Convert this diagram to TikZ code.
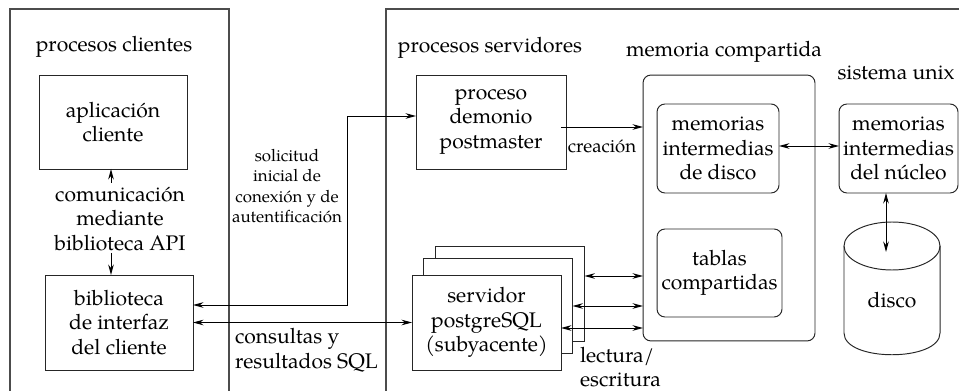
\documentclass[tikz,border=0pt]{standalone}
\usepackage{fontspec}
\setmainfont{TeX Gyre Pagella}
\usetikzlibrary{arrows.meta,calc}
\begin{document}
\begin{tikzpicture}[x=0.02cm,y=-0.02cm,
  every node/.style={inner sep=0pt, outer sep=0pt},
  mainf/.style={font=\fontsize{12}{13.9}\selectfont},
  smallf/.style={font=\fontsize{9.6}{11.6}\selectfont},
  midf/.style={font=\fontsize{10.6}{12.6}\selectfont},
  box/.style={draw=black!85, line width=0.55pt, fill=white, align=center, mainf},
  rbox/.style={box, rounded corners=4.5pt},
  frame/.style={draw=black!70, line width=0.6pt},
  outline/.style={draw=black!85, line width=0.55pt},
  tip/.tip={Stealth[length=6pt,width=3.2pt,inset=2pt]},
  arr/.style={line width=0.55pt, -tip},
  dbl/.style={line width=0.55pt, tip-tip},
]
\useasboundingbox (0,0) rectangle (959,391);

% frames
\draw[frame] (10,391) -- (10,9) -- (229,9) -- (229,391);
\draw[frame] (386,391) -- (386,9) -- (959,9);

% titles
\node[mainf, anchor=base] (tcli) at (114,52) {procesos clientes};
\node[mainf, anchor=base] (tsrv) at (490,53) {procesos servidores};
\node[mainf, anchor=base] (tmem) at (724,57) {memoria compartida};
\node[mainf, anchor=base] (tunx) at (896,80) {sistema unix};

% client side
\node[box, minimum width=2.96cm, minimum height=1.88cm] (apl) at (113,122) {aplicación\\cliente};
\node[box, minimum width=2.96cm, minimum height=1.90cm] (bib) at (119,322.5) {biblioteca\\de interfaz\\del cliente};
\node[mainf, align=center] (com) at (120,219) {comunicación\\mediante\\biblioteca API};
\coordinate (comtop) at (111,183);
\coordinate (combot) at (111,253);
\draw[arr] (comtop) -- (comtop |- apl.south);
\draw[arr] (combot) -- (combot |- bib.north);

% server processes
\node[box, minimum width=3.0cm, minimum height=1.88cm] (proc) at (491,122) {proceso\\demonio\\postmaster};
\node[box, minimum width=2.98cm, minimum height=1.90cm] (s3) at (510,293.5) {};
\node[box, minimum width=2.98cm, minimum height=1.90cm] (s2) at (498,305.5) {};
\node[box, minimum width=2.98cm, minimum height=1.90cm] (serv) at (486.5,322.5) {servidor\\postgreSQL\\(subyacente)};

% shared memory
\node[rbox, minimum width=3.44cm, minimum height=5.32cm] (mem) at (729,208) {};
\node[rbox, minimum width=2.44cm, minimum height=1.78cm] (md) at (718,148.5) {memorias\\intermedias\\de disco};
\node[rbox, minimum width=2.50cm, minimum height=1.76cm] (tab) at (719.5,273) {tablas\\compartidas};

% unix
\node[rbox, minimum width=2.38cm, minimum height=1.78cm] (ker) at (898.5,148.5) {memorias\\intermedias\\del núcleo};
\draw[outline] (844,246) -- (844,333) .. controls (844,362) and (940,362) .. (940,333) -- (940,246);
\draw[outline] (892,246) ellipse [x radius=48, y radius=24];
\node[mainf] (disco) at (892,300) {disco};
\coordinate (diskin) at (886,252);

% connectors
\draw[dbl] ($(bib.east)+(0,-17.5)$) -| (347,116) -- ($(proc.west)+(0,-6)$);
\node[smallf, align=center] (sol) at (287,186) {solicitud\\inicial de\\conexión y de\\autentificación};
\draw[dbl] (bib.east) -- (serv.west);
\node[mainf, align=left, anchor=west] (cons) at (235,350) {consultas y\\resultados SQL};

\coordinate (cre) at ($(proc.east)+(-5,5)$);
\draw[arr] (cre) -- (cre -| mem.west);
\node[midf] (crea) at (602,146) {creación};

\coordinate (md2) at ($(md.east)+(0,-2.5)$);
\draw[dbl] (md2) -- (md2 -| ker.west);
\draw[dbl] ($(ker.south)+(-12.5,0)$) -- (diskin);

\coordinate (r3) at ($(s3.east)+(0,-17.5)$);
\coordinate (r2) at ($(s2.east)+(0,0.5)$);
\coordinate (r1) at ($(serv.east)+(0,5.5)$);
\draw[dbl] (r3) -- (r3 -| mem.west);
\draw[dbl] (r2) -- (r2 -| mem.west);
\draw[dbl] (r1) -- (r1 -| mem.west);
\node[mainf, align=left, anchor=west] (lec) at (580,367) {lectura/\\escritura};
\end{tikzpicture}
\end{document}
